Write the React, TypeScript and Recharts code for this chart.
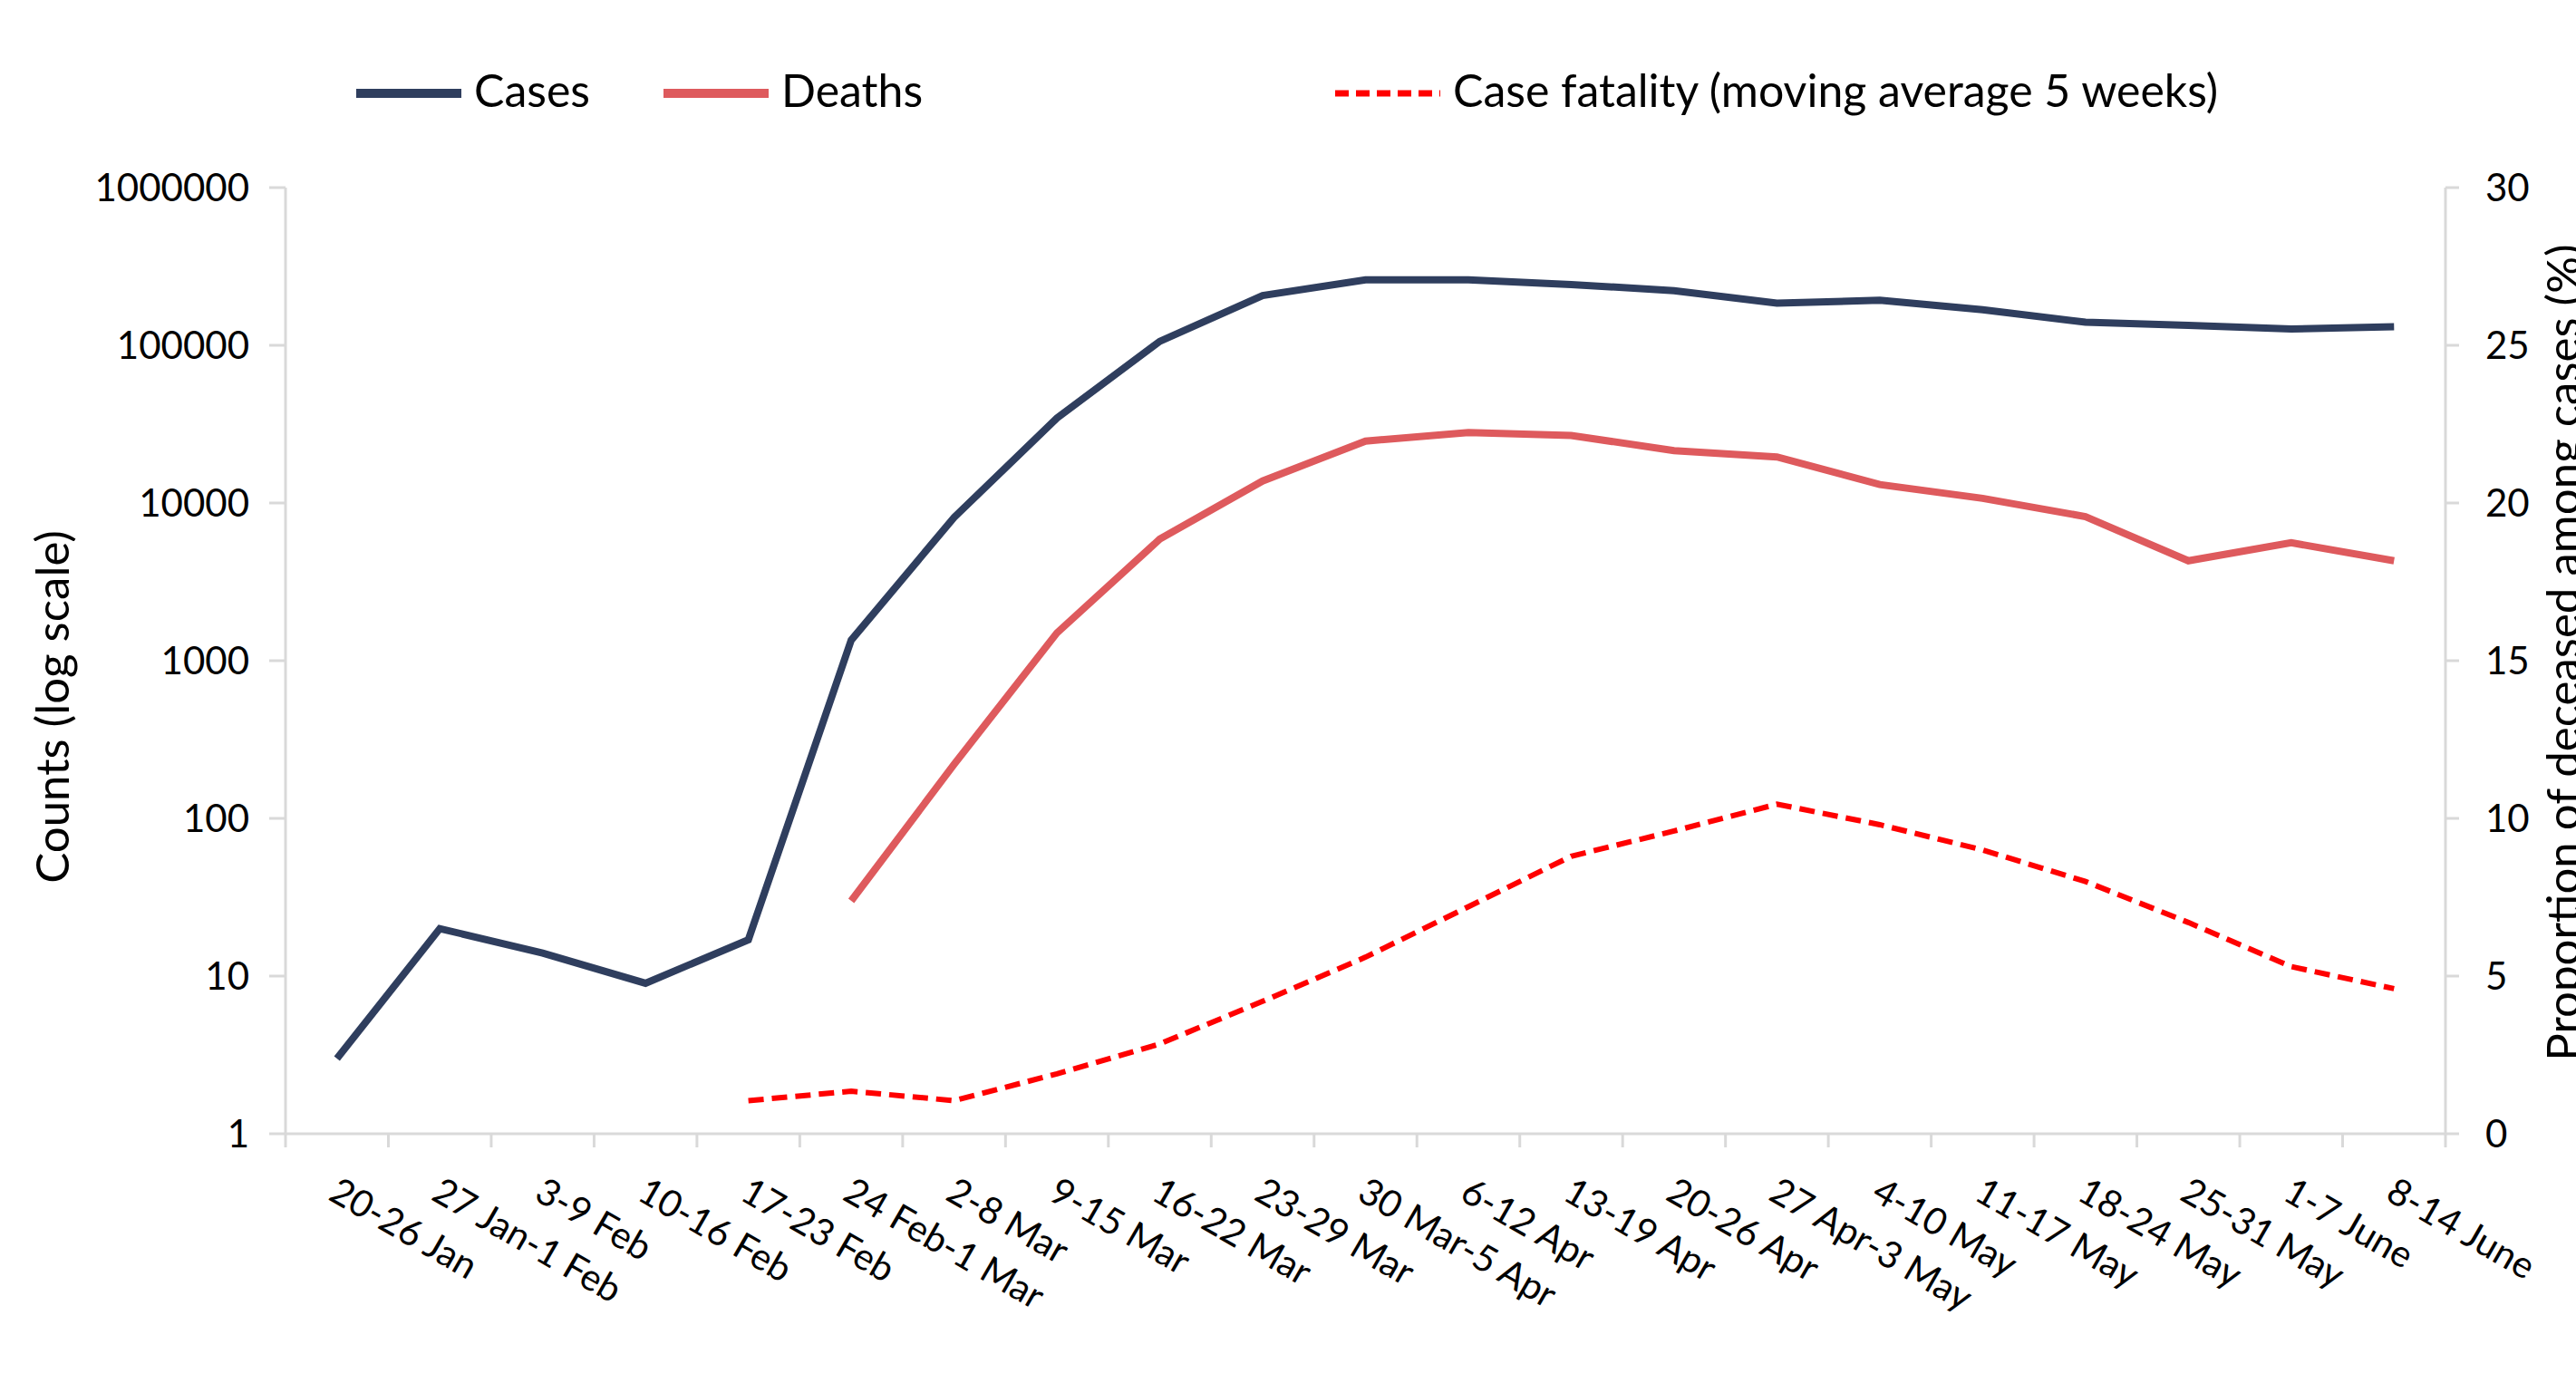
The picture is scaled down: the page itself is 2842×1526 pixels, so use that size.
import { Line, LineChart, XAxis, YAxis } from "recharts";

const weeks = [
  "20-26 Jan",
  "27 Jan-1 Feb",
  "3-9 Feb",
  "10-16 Feb",
  "17-23 Feb",
  "24 Feb-1 Mar",
  "2-8 Mar",
  "9-15 Mar",
  "16-22 Mar",
  "23-29 Mar",
  "30 Mar-5 Apr",
  "6-12 Apr",
  "13-19 Apr",
  "20-26 Apr",
  "27 Apr-3 May",
  "4-10 May",
  "11-17 May",
  "18-24 May",
  "25-31 May",
  "1-7 June",
  "8-14 June",
];

const cases = [
  3, 20, 14, 9, 17, 1350, 8100, 34500, 106000, 207000, 260000, 260000, 243000,
  222000, 185000, 193000, 168000, 140000, 134000, 127000, 131000,
];

const deaths = [
  null, null, null, null, null, 30, 220, 1500, 5900, 13800, 24700, 28000, 26800,
  21500, 19600, 13100, 10700, 8200, 4300, 5600, 4300,
];

const fatality = [
  null, null, null, null, 1.05, 1.35, 1.05, 1.9, 2.85, 4.2, 5.6, 7.2, 8.8, 9.6,
  10.45, 9.8, 9.0, 8.0, 6.7, 5.3, 4.6,
];

const countTicks = [1, 10, 100, 1000, 10000, 100000, 1000000];
const percentTicks = [0, 5, 10, 15, 20, 25, 30];

const seriesNames = ["Cases", "Deaths", "Case fatality (moving average 5 weeks)"];

const W = 2842;
const H = 1526;
const PLOT_LEFT = 315;
const PLOT_RIGHT = 2698;
const PLOT_TOP = 207;
const PLOT_BOTTOM = 1251;
const BAND = (PLOT_RIGHT - PLOT_LEFT) / weeks.length;

const AXIS = "#D9D9D9";
const NAVY = "#2F3E5E";
const ROSE = "#DE5A5D";
const RED = "#FF0000";
const FONT = "Lato, 'Open Sans', sans-serif";

const legendItems = [
  { name: seriesNames[0], color: NAVY, dash: undefined, x: 393 },
  { name: seriesNames[1], color: ROSE, dash: undefined, x: 732 },
  { name: seriesNames[2], color: RED, dash: "15 8", x: 1473 },
];

function WeekTick(props: any) {
  const { x, y, payload, index } = props;
  const i = typeof index === "number" ? index : weeks.indexOf(payload.value);
  const left = x - BAND / 2;
  return (
    <g>
      <line x1={left} x2={left} y1={y} y2={y + 15} stroke={AXIS} strokeWidth={3} />
      {i === weeks.length - 1 && (
        <line
          x1={x + BAND / 2}
          x2={x + BAND / 2}
          y1={y}
          y2={y + 15}
          stroke={AXIS}
          strokeWidth={3}
        />
      )}
      <text
        transform={`translate(${x + 5},${y + 44}) rotate(30)`}
        textAnchor="start"
        dominantBaseline="hanging"
        fontSize={41}
        fill="#000"
      >
        {payload.value}
      </text>
    </g>
  );
}

export default function App() {
  const data = weeks.map((week, i) => ({
    week,
    cases: cases[i],
    deaths: deaths[i],
    fatality: fatality[i],
  }));

  return (
    <div
      style={{
        position: "absolute",
        left: 0,
        top: 0,
        width: W,
        height: H,
        background: "#fff",
        fontFamily: FONT,
        overflow: "hidden",
      }}
    >
      <svg
        width={W}
        height={170}
        style={{ position: "absolute", left: 0, top: 0 }}
      >
        {legendItems.map((item) => (
          <g key={item.name}>
            <line
              x1={item.x}
              x2={item.x + 116}
              y1={103}
              y2={103}
              stroke={item.color}
              strokeWidth={item.dash ? 7 : 10}
              strokeDasharray={item.dash}
            />
            <text x={item.x + 130} y={118} fontSize={50} fill="#000">
              {item.name}
            </text>
          </g>
        ))}
      </svg>
      <LineChart
        width={W}
        height={H}
        data={data}
        margin={{ top: PLOT_TOP, right: 0, bottom: 0, left: 0 }}
      >
        <XAxis
          dataKey="week"
          interval={0}
          height={H - PLOT_BOTTOM}
          padding={{ left: BAND / 2, right: BAND / 2 }}
          axisLine={{ stroke: AXIS, strokeWidth: 3 }}
          tickLine={false}
          tickSize={0}
          tickMargin={0}
          tick={<WeekTick />}
        />
        <YAxis
          yAxisId="left"
          scale="log"
          domain={[1, 1000000]}
          ticks={countTicks}
          allowDataOverflow
          width={PLOT_LEFT}
          axisLine={{ stroke: AXIS, strokeWidth: 3 }}
          tickLine={{ stroke: AXIS, strokeWidth: 3 }}
          tickSize={18}
          tickMargin={22}
          tick={{ fill: "#000", fontSize: 42 }}
          label={{
            content: ({ viewBox }: any) => (
              <text
                transform={`translate(76,${viewBox.y + viewBox.height / 2 + 51}) rotate(-90)`}
                textAnchor="middle"
                fontSize={51}
                fill="#000"
              >
                Counts (log scale)
              </text>
            ),
          }}
        />
        <YAxis
          yAxisId="right"
          orientation="right"
          domain={[0, 30]}
          ticks={percentTicks}
          width={W - PLOT_RIGHT}
          axisLine={{ stroke: AXIS, strokeWidth: 3 }}
          tickLine={{ stroke: AXIS, strokeWidth: 3 }}
          tickSize={15}
          tickMargin={29}
          tick={{ fill: "#000", fontSize: 42 }}
          label={{
            content: ({ viewBox }: any) => (
              <text
                transform={`translate(2846,${viewBox.y + viewBox.height / 2 - 9}) rotate(-90)`}
                textAnchor="middle"
                fontSize={51}
                fill="#000"
              >
                Proportion of deceased among cases (%)
              </text>
            ),
          }}
        />
        <Line
          yAxisId="left"
          type="linear"
          dataKey="cases"
          name={seriesNames[0]}
          stroke={NAVY}
          strokeWidth={8}
          dot={false}
          activeDot={false}
          isAnimationActive={false}
        />
        <Line
          yAxisId="left"
          type="linear"
          dataKey="deaths"
          name={seriesNames[1]}
          stroke={ROSE}
          strokeWidth={8}
          dot={false}
          activeDot={false}
          isAnimationActive={false}
        />
        <Line
          yAxisId="right"
          type="linear"
          dataKey="fatality"
          name={seriesNames[2]}
          stroke={RED}
          strokeWidth={6}
          strokeDasharray="17 9"
          dot={false}
          activeDot={false}
          isAnimationActive={false}
        />
      </LineChart>
    </div>
  );
}
